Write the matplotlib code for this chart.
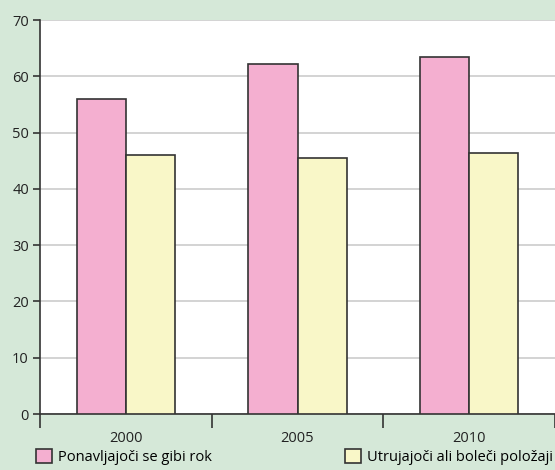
import matplotlib
matplotlib.use("Agg")
import matplotlib.pyplot as plt
from matplotlib.patches import Patch
import numpy as np

years = ["2000", "2005", "2010"]
repetitive = [56, 62.2, 63.4]
tiring = [46, 45.4, 46.4]
labels = ["Ponavljajoči se gibi rok", "Utrujajoči ali boleči položaji"]

bg = "#d5e8d8"
pink = "#f4afd0"
yellow = "#f9f7c8"
edge = "#333333"

plt.rcParams["font.family"] = ["Open Sans", "DejaVu Sans"]

fig = plt.figure(figsize=(5.55, 4.7), dpi=100, facecolor=bg)
ax = fig.add_axes([40 / 555, 1 - 414 / 470, 1 - 40 / 555, 394 / 470])

x = np.arange(len(years))
w = 0.287
ax.bar(x - w / 2, repetitive, w, color=pink, edgecolor=edge, linewidth=1.2, zorder=3)
ax.bar(x + w / 2, tiring, w, color=yellow, edgecolor=edge, linewidth=1.2, zorder=3)

ax.set_xlim(-0.5, 2.5)
ax.set_ylim(0, 70)
ax.set_yticks(range(0, 71, 10))
ax.yaxis.grid(True, color="#cccccc", linewidth=1.2, zorder=0)

ax.set_xticks(x)
ax.set_xticklabels(years)
ax.set_xticks([-0.5, 0.5, 1.5, 2.5], minor=True)
ax.tick_params(axis="x", which="major", length=0, pad=12, labelsize=10.5, colors="#222222")
ax.tick_params(axis="x", which="minor", length=10, width=1.2, direction="out", color="#333333")
ax.tick_params(axis="y", length=5, width=1.2, direction="out", labelsize=10.5, colors="#222222",
               pad=3)
ax.tick_params(axis="y", colors="#333333", labelcolor="#222222")

for s in ["top", "right"]:
    ax.spines[s].set_visible(False)
for s in ["left", "bottom"]:
    ax.spines[s].set_color("#333333")
    ax.spines[s].set_linewidth(1.2)

h1 = Patch(facecolor=pink, edgecolor=edge, linewidth=1.2, label=labels[0])
h2 = Patch(facecolor=yellow, edgecolor=edge, linewidth=1.2, label=labels[1])
leg_kw = dict(frameon=False, fontsize=10.5, handlelength=1.1, handleheight=1.1,
              handletextpad=0.4, borderaxespad=0, borderpad=0)
fig.legend(handles=[h1], loc="center left", bbox_to_anchor=(36 / 555, 1 - 457 / 470), **leg_kw)
fig.legend(handles=[h2], loc="center right", bbox_to_anchor=(553 / 555, 1 - 457 / 470), **leg_kw)

fig.savefig("out.png", dpi=100, facecolor=bg)
